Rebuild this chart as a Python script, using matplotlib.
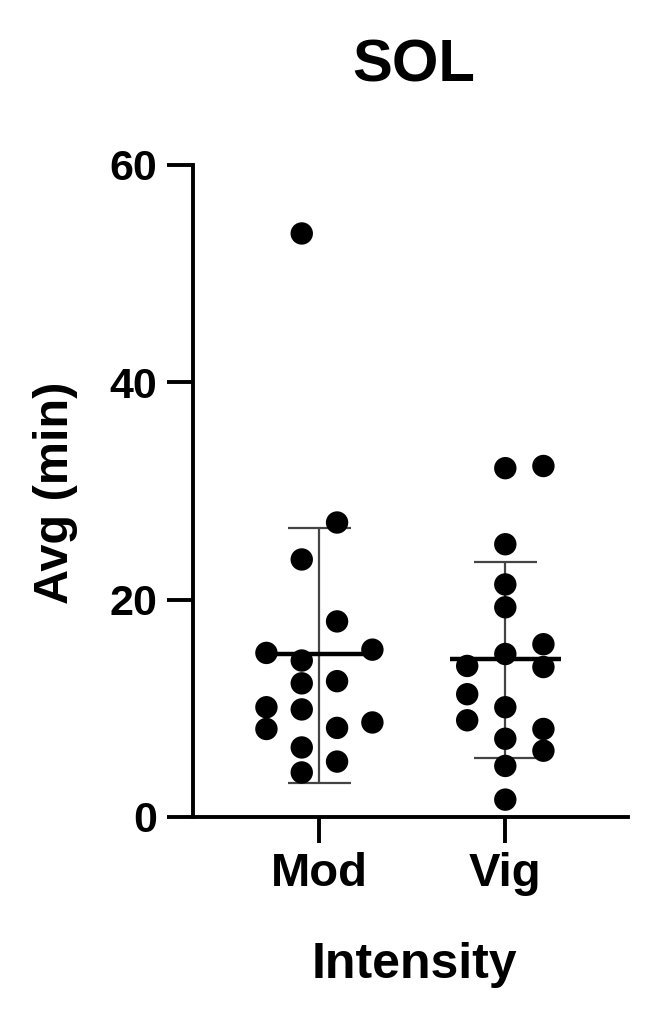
import numpy as np
import matplotlib
matplotlib.use('Agg')
import matplotlib.pyplot as plt

groups = ['Mod', 'Vig']
mod_vals = [53.7, 27.1, 23.7, 18.0, 15.1, 15.4, 14.4, 12.3, 12.5, 10.1, 9.9, 8.1, 8.7, 8.2, 6.4, 5.1, 4.1]
mod_slot = [-0.5, 0.5, -0.5, 0.5, -1.5, 1.5, -0.5, -0.5, 0.5, -1.5, -0.5, -1.5, 1.5, 0.5, -0.5, 0.5, -0.5]
vig_vals = [32.1, 32.3, 25.1, 21.4, 19.3, 15.9, 15.0, 13.9, 13.8, 11.3, 10.1, 8.9, 8.1, 7.2, 6.1, 4.7, 1.6]
vig_slot = [0, 1, 0, 0, 0, 1, 0, -1, 1, -1, 0, -1, 1, 0, 1, 0, 0]
means = [15.0, 14.5]
sd_low = [3.1, 5.4]
sd_high = [26.6, 23.5]

plt.rcParams['font.family'] = ['Liberation Sans', 'DejaVu Sans']
plt.rcParams['font.weight'] = 'bold'

W, H = 668, 1027
fig = plt.figure(figsize=(W / 100, H / 100), dpi=100)
ax = fig.add_axes([193 / W, 1 - 817 / H, 435 / W, 652 / H])

steps = [0.19, 0.205]
for i, (vals, slots) in enumerate([(mod_vals, mod_slot), (vig_vals, vig_slot)]):
    xs = i + np.array(slots) * steps[i]
    ax.vlines(i, sd_low[i], sd_high[i], color='#444444', lw=1.6, zorder=2)
    ax.hlines([sd_low[i], sd_high[i]], i - 0.17, i + 0.17, color='#444444', lw=1.6, zorder=2)
    ax.scatter(xs, vals, s=260, color='black', edgecolors='none', zorder=3)
    ax.hlines(means[i], i - 0.3, i + 0.3, color='black', lw=3.2, zorder=4)

ax.set_xlim(-0.68, 1.66)
ax.set_ylim(0, 60)
ax.set_yticks([0, 20, 40, 60])
ax.set_xticks([0, 1])
ax.set_xticklabels(groups)

for s in ['top', 'right']:
    ax.spines[s].set_visible(False)
for s in ['left', 'bottom']:
    ax.spines[s].set_linewidth(2.8)
ax.tick_params(axis='both', length=19, width=2.8)
ax.tick_params(axis='y', labelsize=31, pad=7)
ax.tick_params(axis='x', labelsize=34, pad=6)

fig.text(414 / W, 1 - 82 / H, 'SOL', fontsize=43, fontweight='bold', ha='center', va='baseline')
fig.text(68 / W, 1 - 493 / H, 'Avg (min)', fontsize=35, fontweight='bold', rotation=90,
         rotation_mode='anchor', ha='center', va='baseline')
fig.text(414 / W, 1 - 978 / H, 'Intensity', fontsize=36, fontweight='bold', ha='center', va='baseline')

fig.savefig('out.png', dpi=100)
